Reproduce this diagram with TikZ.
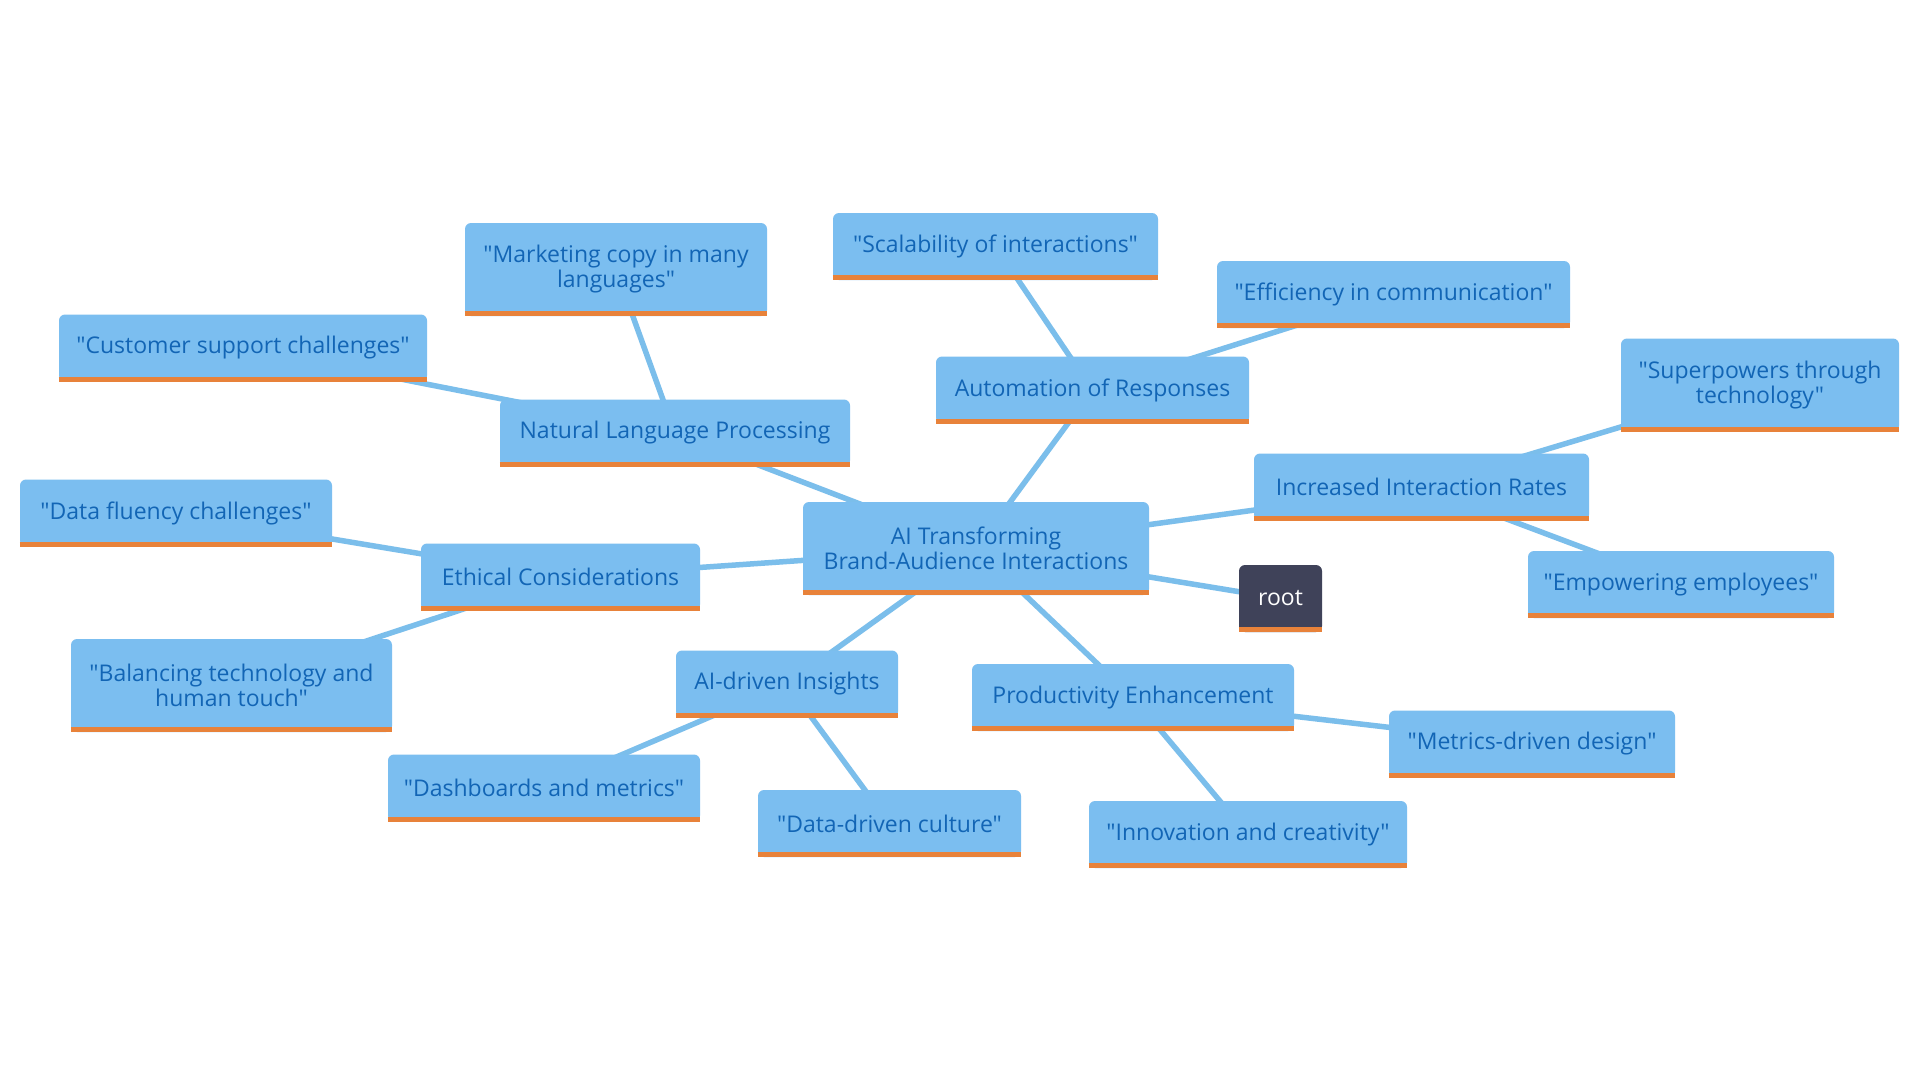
\documentclass[tikz,border=0pt]{standalone}
\usepackage{fontspec}
\setmainfont{Open Sans}[Ligatures=TeXOff]
\definecolor{boxfill}{HTML}{7BBEF0}
\definecolor{boxtext}{HTML}{1265B5}
\definecolor{barcol}{HTML}{E8823A}
\definecolor{rootfill}{HTML}{3F4259}
\definecolor{edgecol}{HTML}{7BBEEB}
\pgfdeclarelayer{bg}
\pgfsetlayers{bg,main}
\tikzset{
  box/.style={fill=boxfill, text=boxtext, rounded corners=6pt, inner sep=0pt,
    align=center, font=\fontsize{23}{25}\selectfont, minimum height=67pt,
    append after command={
      ([yshift=2.5pt]\tikzlastnode.south west) edge[draw=barcol, line width=5pt, line cap=butt, -] ([yshift=2.5pt]\tikzlastnode.south east)}},
  tall/.style={minimum height=93pt},
  rootbox/.style={box, fill=rootfill, text=white},
  link/.style={draw=edgecol, line width=5.5pt}
}
\begin{document}
\begin{tikzpicture}[x=1pt,y=-1pt]
\useasboundingbox (0,0) rectangle (1920,1080);
\node[box,tall,minimum width=346pt] (center) at (976,548.5) {AI Transforming\\Brand-Audience Interactions};
\node[rootbox,minimum width=83pt] (root) at (1280.5,598.5) {root};
\node[box,minimum width=350pt] (nlp) at (675,433) {Natural Language Processing};
\node[box,tall,minimum width=302pt] (mkt) at (616,269.5) {"Marketing copy in many\\languages"};
\node[box,minimum width=368pt] (cust) at (243,348) {"Customer support challenges"};
\node[box,minimum width=313pt] (auto) at (1092.5,390) {Automation of Responses};
\node[box,minimum width=325pt] (scal) at (995.5,246.5) {"Scalability of interactions"};
\node[box,minimum width=353pt] (eff) at (1393.5,294.5) {"Efficiency in communication"};
\node[box,minimum width=335pt] (inc) at (1421.5,487) {Increased Interaction Rates};
\node[box,tall,minimum width=278pt] (sup) at (1760,385) {"Superpowers through\\technology"};
\node[box,minimum width=306pt] (emp) at (1681,584.5) {"Empowering employees"};
\node[box,minimum width=279pt] (eth) at (560.5,577) {Ethical Considerations};
\node[box,minimum width=312pt] (dfl) at (176,513) {"Data fluency challenges"};
\node[box,tall,minimum width=321pt] (bal) at (231.5,685.5) {"Balancing technology and\\human touch"};
\node[box,minimum width=222pt] (aid) at (787,684) {AI-driven Insights};
\node[box,minimum width=312pt] (dash) at (544,788) {"Dashboards and metrics"};
\node[box,minimum width=263pt] (ddc) at (889.5,823.5) {"Data-driven culture"};
\node[box,minimum width=322pt] (prod) at (1133,697.5) {Productivity Enhancement};
\node[box,minimum width=286pt] (met) at (1532,744) {"Metrics-driven design"};
\node[box,minimum width=318pt] (inn) at (1248,834.5) {"Innovation and creativity"};
\begin{pgfonlayer}{bg}
\fill[white] (0,0) rectangle (1920,1080);
\draw[link] (center.center) -- (nlp.center);
\draw[link] (center.center) -- (auto.center);
\draw[link] (center.center) -- (inc.center);
\draw[link] (center.center) -- (root.center);
\draw[link] (center.center) -- (eth.center);
\draw[link] (center.center) -- (aid.center);
\draw[link] (center.center) -- (prod.center);
\draw[link] (nlp.center) -- (mkt.center);
\draw[link] (nlp.center) -- (cust.center);
\draw[link] (auto.center) -- (scal.center);
\draw[link] (auto.center) -- (eff.center);
\draw[link] (inc.center) -- (sup.center);
\draw[link] (inc.center) -- (emp.center);
\draw[link] (eth.center) -- (dfl.center);
\draw[link] (eth.center) -- (bal.center);
\draw[link] (aid.center) -- (dash.center);
\draw[link] (aid.center) -- (ddc.center);
\draw[link] (prod.center) -- (met.center);
\draw[link] (prod.center) -- (inn.center);
\end{pgfonlayer}
\end{tikzpicture}
\end{document}
